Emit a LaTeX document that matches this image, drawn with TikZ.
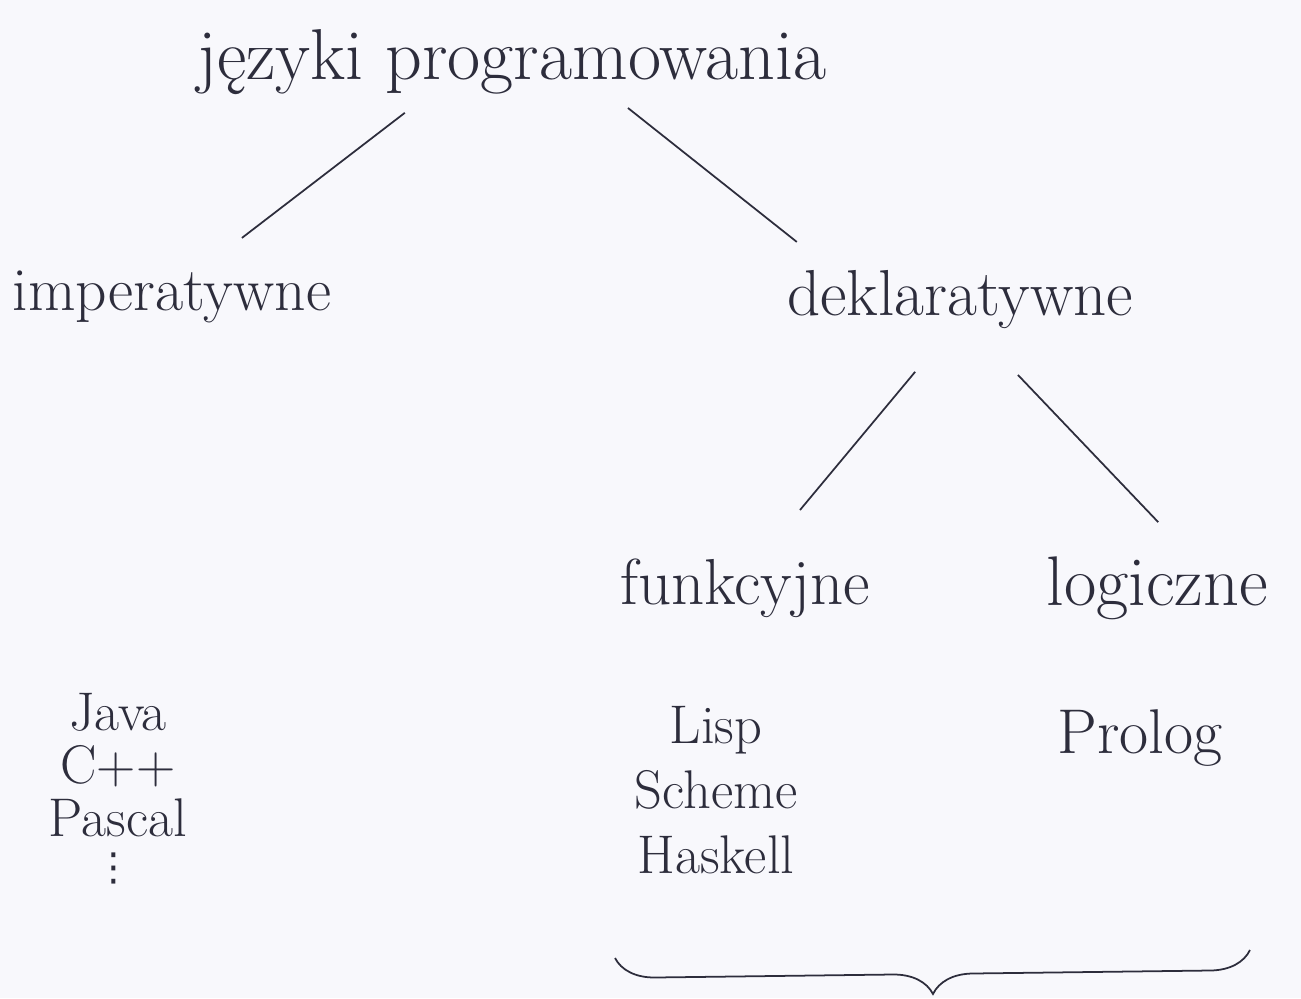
\documentclass[tikz,border=0pt]{standalone}
\usepackage{fontspec}
\newfontfamily\symbolfont{DejaVu Sans}
\usetikzlibrary{positioning,decorations.pathreplacing}
\definecolor{paper}{RGB}{248,248,252}
\definecolor{ink}{RGB}{45,45,60}
\tikzset{
  kind/.style={text=ink,inner sep=2pt,font=\fontsize{37}{40}\selectfont},
  langs/.style={text=ink,align=center,inner sep=2pt},
  branch/.style={draw=ink,line width=1pt}
}
\begin{document}
\begin{tikzpicture}[x=0.02cm,y=-0.02cm]
\fill[paper] (0,0) rectangle (1301,998); % tlo = bounding box

\node[kind,font=\fontsize{41}{44}\selectfont] (root) at (512,62) {języki programowania};
\node[kind,font=\fontsize{35}{38}\selectfont] (imp) at (172,297) {imperatywne};
\node[kind] (dekl) at (960,300) {deklaratywne};
\node[kind] (fun) at (745,588) {funkcyjne};
\node[kind,font=\fontsize{40}{44}\selectfont] (log) at (1157,588) {logiczne};

\node[langs,font=\fontsize{31}{30}\selectfont] (impl) at (118,765) {Java\\C++\\Pascal};
\node[langs,font=\symbolfont\fontsize{22}{24}\selectfont] (more) at (114,868) {⋮};
\node[langs,font=\fontsize{31}{37}\selectfont] (funl) at (716,790) {Lisp\\Scheme\\Haskell};
\node[langs,font=\fontsize{36}{40}\selectfont] (logl) at (1140,738) {Prolog};

\draw[branch,shorten <=1.67cm,shorten >=1.94cm] ([xshift=-0.82cm]root.center) -- ([xshift=-0.14cm]imp.center);
\draw[branch,shorten <=1.48cm,shorten >=1.87cm] ([xshift=1.16cm]root.center) -- ([xshift=-1.8cm]dekl.center);
\draw[branch,shorten <=1.87cm,shorten >=2.03cm] ([xshift=0.3cm]dekl.center) -- ([xshift=-0.2cm]fun.center);
\draw[branch,shorten <=2.07cm,shorten >=1.82cm] ([xshift=-0.27cm]dekl.center) -- ([xshift=1.28cm]log.center);

\coordinate (bl) at (615,958);
\coordinate (br) at (1250,950);
\draw[branch,decorate,decoration={brace,mirror,amplitude=0.8cm}] (bl) -- (br);
\end{tikzpicture}
\end{document}
